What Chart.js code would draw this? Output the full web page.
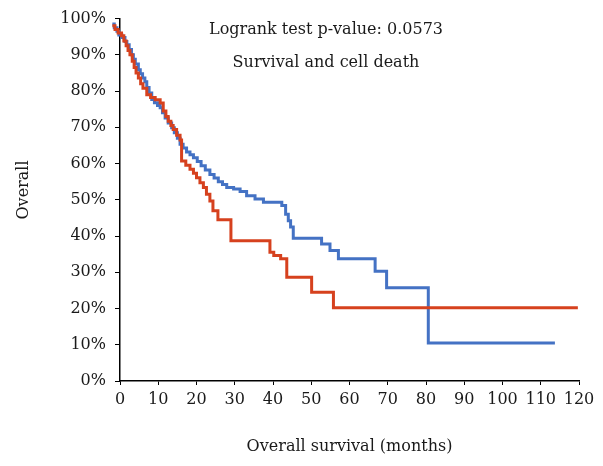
<!DOCTYPE html>
<html>
<head>
    <script src="https://cdn.jsdelivr.net/npm/chart.js@4.4.1/dist/chart.umd.min.js"></script>
    <style>
        body { margin: 0; background: #fff; }
    </style>
</head>
<body>
<canvas id="myChart" width="603" height="466"></canvas>

<script>
    // step curves, time in months and survival in %
    const blueTimes = [-2, -1.5, -0.8, -0.3, 0.5, 1.3, 1.8, 2.4, 3.0, 3.5, 4.0, 4.8, 5.3, 5.9, 6.5, 7.0, 7.6, 8.3, 9.0, 9.8,
        10.5, 11.1, 11.8, 12.6, 13.5, 14.2, 15.0, 15.7, 16.5, 17.4, 18.3, 19.2, 20.2, 21.2, 22.3, 23.5, 24.6, 25.7, 26.8, 27.9,
        29.7, 31.4, 33.1, 35.3, 37.5, 42.3, 43.3, 44.0, 44.6, 45.3, 52.7, 54.9, 57.1, 66.7, 69.7, 80.6, 113.7];
    const blueSurv = [98.5, 97.5, 96.5, 95.5, 94.8, 93.7, 92.8, 91.5, 90.0, 88.8, 87.5, 85.9, 84.8, 83.6, 82.6, 81.0, 79.5, 77.7, 76.8, 76.0,
        75.4, 74.0, 72.6, 71.2, 69.9, 68.5, 67.0, 65.3, 64.3, 63.2, 62.4, 61.6, 60.6, 59.4, 58.2, 57.0, 56.0, 55.0, 54.2, 53.4,
        53.0, 52.3, 51.1, 50.2, 49.3, 48.4, 46.0, 44.2, 42.5, 39.4, 37.8, 36.0, 33.7, 30.3, 25.7, 10.5, 10.5];

    const redTimes = [-2, -1.3, -0.5, 0.4, 1.0, 1.6, 2.1, 2.6, 3.2, 3.7, 4.2, 4.8, 5.4, 6.0, 7.0, 8.0, 9.2, 10.5, 11.3, 12.0,
        12.6, 13.3, 13.9, 14.8, 15.7, 16.1, 17.2, 18.3, 19.2, 20.0, 20.9, 21.8, 22.6, 23.5, 24.3, 25.6, 29.0,
        39.2, 40.2, 42.0, 43.6, 50.1, 55.8, 119.7];
    const redSurv = [98.0, 97.0, 96.0, 95.3, 93.8, 92.5, 91.2, 90.0, 88.2, 86.5, 85.0, 83.6, 82.0, 80.8, 79.0, 78.2, 77.6, 76.7, 74.5, 73.0,
        71.7, 70.5, 69.4, 67.8, 66.5, 60.7, 59.5, 58.4, 57.3, 56.1, 54.7, 53.4, 51.5, 49.7, 47.0, 44.5, 38.7,
        35.5, 34.6, 33.7, 28.6, 24.5, 20.2, 20.2];

    const xTicks = [0, 10, 20, 30, 40, 50, 60, 70, 80, 90, 100, 110, 120];
    const annotationLines = ["Logrank test p-value: 0.0573", "Survival and cell death"];
    const yTitle = "Overall";

    const serif = "'DejaVu Serif', serif";

    function toPoints(xs, ys) {
        return xs.map((x, i) => ({x: x, y: ys[i]}));
    }

    // annotation lines and the y title (sits a bit above the axis centre in the original)
    const textPlugin = {
        id: 'textPlugin',
        afterDraw(chart) {
            const ctx = chart.ctx;
            ctx.save();
            ctx.font = "16px " + serif;
            ctx.fillStyle = "#1a1a1a";
            ctx.textAlign = "center";
            ctx.textBaseline = "middle";
            ctx.fillText(annotationLines[0], 326, 30);
            ctx.fillText(annotationLines[1], 326, 63);
            ctx.translate(24, 190);
            ctx.rotate(-Math.PI / 2);
            ctx.fillText(yTitle, 0, 0);
            ctx.restore();
        }
    };

    let myChart = new Chart("myChart", {
        type: "line",
        data: {
            datasets: [{
                data: toPoints(redTimes, redSurv),
                borderColor: "#D6411E",
                borderWidth: 3,
                pointRadius: 0,
                stepped: true,
                clip: false
            }, {
                data: toPoints(blueTimes, blueSurv),
                borderColor: "#4472C4",
                borderWidth: 3,
                pointRadius: 0,
                stepped: true,
                clip: false
            }]
        },
        options: {
            responsive: false,
            animation: false,
            layout: {padding: {top: 17, right: 24, left: 14, bottom: 6}},
            plugins: {legend: {display: false}, tooltip: {enabled: false}},
            scales: {
                x: {
                    type: "linear",
                    // bounds set after data limits so the curve start left of 0 is still drawn
                    afterDataLimits: (scale) => { scale.min = 0; scale.max = 120; },
                    afterBuildTicks: (scale) => { scale.ticks = xTicks.map(v => ({value: v})); },
                    afterFit: (scale) => { scale.height = 79; },
                    grid: {display: true, drawOnChartArea: false, drawTicks: true, tickLength: 4, color: "#000", lineWidth: 1},
                    border: {color: "#000", width: 1.5},
                    ticks: {color: "#1a1a1a", font: {family: serif, size: 16}, maxRotation: 0, padding: 5},
                    title: {display: true, text: "Overall survival (months)", color: "#1a1a1a",
                        font: {family: serif, size: 16}, padding: {top: 0, bottom: 4}}
                },
                y: {
                    min: 0,
                    max: 100,
                    afterFit: (scale) => { scale.width = 106; },
                    grid: {display: true, drawOnChartArea: false, drawTicks: true, tickLength: 5, color: "#000", lineWidth: 1},
                    border: {color: "#000", width: 1.5},
                    ticks: {stepSize: 10, color: "#1a1a1a", font: {family: serif, size: 16}, padding: 9,
                        callback: (v) => v + "%"}
                }
            }
        },
        plugins: [textPlugin]
    });
</script>
</body>
</html>
